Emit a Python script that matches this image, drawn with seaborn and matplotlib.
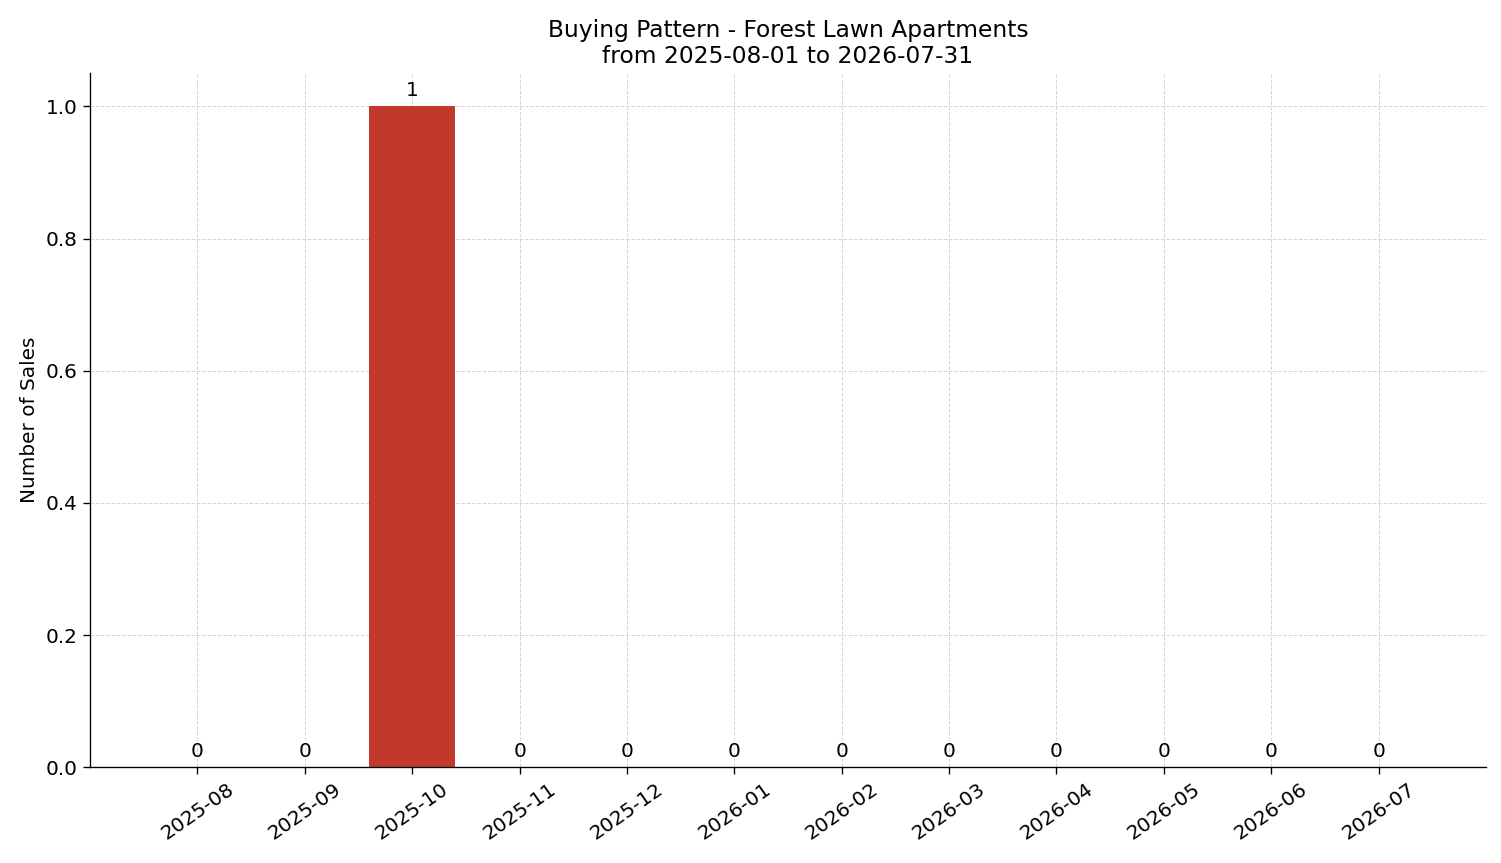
import matplotlib
matplotlib.use("Agg")
import matplotlib.pyplot as plt
import seaborn as sns
import pandas as pd

months = ["2025-08","2025-09","2025-10","2025-11","2025-12","2026-01",
          "2026-02","2026-03","2026-04","2026-05","2026-06","2026-07"]
sales = [0,0,1,0,0,0,0,0,0,0,0,0]

sns.set_style("white")
plt.rcParams.update({"text.color": "black", "axes.labelcolor": "black",
                     "xtick.color": "black", "ytick.color": "black",
                     "axes.edgecolor": "black"})
fig, ax = plt.subplots(figsize=(1501/120, 863/120), dpi=120)
df = pd.DataFrame({"month": months, "sales": sales})
sns.barplot(data=df, x="month", y="sales", color="#c0392b", saturation=1, width=0.8,
            linewidth=0, ax=ax, zorder=2)
for i, v in enumerate(sales):
    ax.text(i, v + 0.01, str(v), ha="center", va="bottom", fontsize=12)
ax.set_xlim(-1, 12)
ax.set_ylim(0, 1.05)
ax.grid(True, linestyle="--", linewidth=0.6, color="#cccccc", alpha=0.8, zorder=0)
ax.set_axisbelow(True)
sns.despine(ax=ax)
ax.tick_params(axis="x", rotation=35, labelsize=12, bottom=True, length=4)
ax.tick_params(axis="y", labelsize=12, left=True, length=4)
ax.set_xlabel("")
ax.set_ylabel("Number of Sales", fontsize=12)
ax.set_title("Buying Pattern - Forest Lawn Apartments\nfrom 2025-08-01 to 2026-07-31", fontsize=14)
fig.subplots_adjust(left=0.06, right=0.99, top=0.915, bottom=0.111)
fig.savefig("out.png", dpi=120)
